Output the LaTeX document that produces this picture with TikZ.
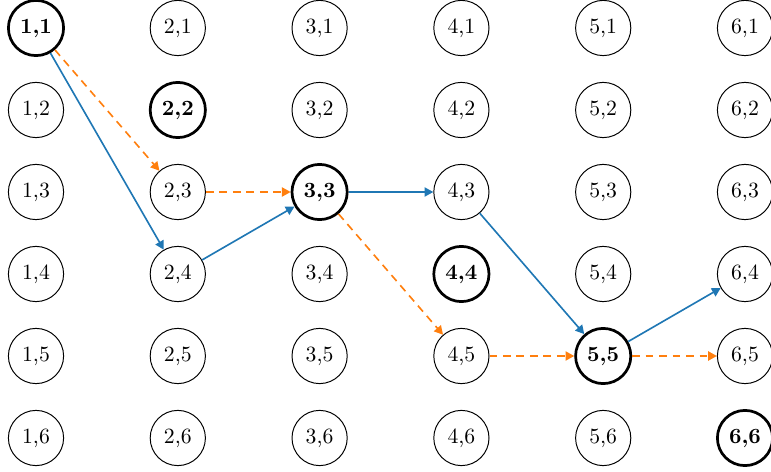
\documentclass[tikz,border=0pt]{standalone}
\usetikzlibrary{arrows.meta}
\definecolor{tabblue}{RGB}{31,119,180}
\definecolor{taborange}{RGB}{255,127,14}
\begin{document}
\begin{tikzpicture}[x=0.46pt,y=-0.46pt,
  cell/.style={circle,draw,line width=0.45pt,minimum size=25.4pt,inner sep=0pt,font=\normalsize},
  hot/.style={cell,line width=1.25pt,font=\bfseries},
  bluearrow/.style={draw=tabblue,line width=0.75pt,-{Triangle[length=4pt,width=4.2pt]},fill=none},
  orangearrow/.style={draw=taborange,line width=0.75pt,dash pattern=on 3.6pt off 2.6pt,-{Triangle[length=4pt,width=4.2pt]}}]
\useasboundingbox (0,0) rectangle (771,472);
\foreach \i in {1,...,6}{
  \foreach \j in {1,...,6}{
    \pgfmathsetmacro{\xx}{36+141.8*(\i-1)}
    \pgfmathsetmacro{\yy}{28+82*(\j-1)}
    \ifnum\i=\j
      \node[hot] (n\i\j) at (\xx,\yy) {\i,\j};
    \else
      \node[cell] (n\i\j) at (\xx,\yy) {\i,\j};
    \fi
  }
}
\draw[bluearrow] (n11) -- (n24);
\draw[bluearrow] (n24) -- (n33);
\draw[bluearrow] (n33) -- (n43);
\draw[bluearrow] (n43) -- (n55);
\draw[bluearrow] (n55) -- (n64);
\draw[orangearrow] (n11) -- (n23);
\draw[orangearrow] (n23) -- (n33);
\draw[orangearrow] (n33) -- (n45);
\draw[orangearrow] (n45) -- (n55);
\draw[orangearrow] (n55) -- (n65);
\end{tikzpicture}
\end{document}
